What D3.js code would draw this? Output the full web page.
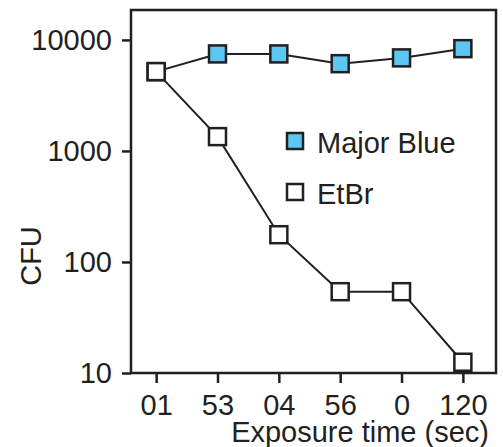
<!DOCTYPE html>
<meta charset="utf-8">
<style>
  body { margin: 0; background: #fff; }
  text { font-family: "Liberation Sans", Arial, sans-serif; fill: #231f20; }
</style>
<div id="chart"></div>
<script src="https://d3js.org/d3.v7.min.js"></script>
<script>
    var tickLabels = ["01", "53", "04", "56", "0", "120"];
    var majorBlue = [5180, 7480, 7480, 6110, 6890, 8340];
    var etbr = [5180, 1346, 176, 54, 54, 12.5];
    var yTicks = [10, 100, 1000, 10000];

    var ink = "#231f20", blue = "#5bc8f3";
    var plotL = 131, plotR = 496, plotT = 10, plotB = 373;
    var fs = 29;

    var svg = d3.select("#chart").append("svg").attr("width", 503).attr("height", 447);

    var x = d3.scaleLinear().domain([-0.41, 5.54]).range([plotL, plotR]);
    var y = d3.scaleLog().domain([10, 18600]).range([plotB, plotT]);

    // Y axis
    var ya = svg.append("g")
        .attr("transform", "translate(" + plotL + ",0)")
        .call(d3.axisLeft(y).tickValues(yTicks).tickFormat(d3.format("d")).tickSize(9).tickPadding(10));
    ya.select(".domain").remove();
    ya.selectAll("line").attr("stroke", ink).attr("stroke-width", 2.5);
    ya.selectAll("text").attr("font-size", fs).attr("font-family", null).attr("dy", "0.34em");

    // X axis
    var xa = svg.append("g")
        .attr("transform", "translate(0," + plotB + ")")
        .call(d3.axisBottom(x).tickValues(d3.range(tickLabels.length))
            .tickFormat(function(i) { return tickLabels[i]; }).tickSize(10).tickPadding(11));
    xa.select(".domain").remove();
    xa.selectAll("line").attr("stroke", ink).attr("stroke-width", 2.5);
    xa.selectAll("text").attr("font-size", fs).attr("font-family", null);

    // frame
    svg.append("path")
        .attr("d", "M" + plotL + "," + plotT + "H" + plotR + "V" + plotB + "H" + plotL + "Z")
        .attr("fill", "none").attr("stroke", ink).attr("stroke-width", 2.5);

    // axis titles
    svg.append("text").attr("x", 489).attr("y", 442).attr("text-anchor", "end")
        .attr("font-size", fs).text("Exposure time (sec)");
    svg.append("text").attr("transform", "translate(41,256) rotate(-90)")
        .attr("text-anchor", "middle").attr("font-size", fs).text("CFU");

    var line = d3.line().x(function(d, i) { return x(i); }).y(function(d) { return y(d); });
    var s = 17;

    function series(vals, fill) {
        svg.append("path").datum(vals).attr("d", line)
            .attr("fill", "none").attr("stroke", ink).attr("stroke-width", 2);
        svg.selectAll(null).data(vals).enter().append("rect")
            .attr("x", function(d, i) { return x(i) - s / 2; })
            .attr("y", function(d) { return y(d) - s / 2; })
            .attr("width", s).attr("height", s)
            .attr("fill", fill).attr("stroke", ink).attr("stroke-width", 2.5);
    }
    series(majorBlue, blue);
    series(etbr, "#fff");

    // legend
    var legend = [{name: "Major Blue", fill: blue, y: 141}, {name: "EtBr", fill: "#fff", y: 192}];
    legend.forEach(function(l) {
        svg.append("rect").attr("x", 295 - 8).attr("y", l.y - 8).attr("width", 16).attr("height", 16)
            .attr("fill", l.fill).attr("stroke", ink).attr("stroke-width", 2.5);
        svg.append("text").attr("x", 317).attr("y", l.y + 6).attr("dy", "0.2em")
            .attr("font-size", fs).text(l.name);
    });
</script>
